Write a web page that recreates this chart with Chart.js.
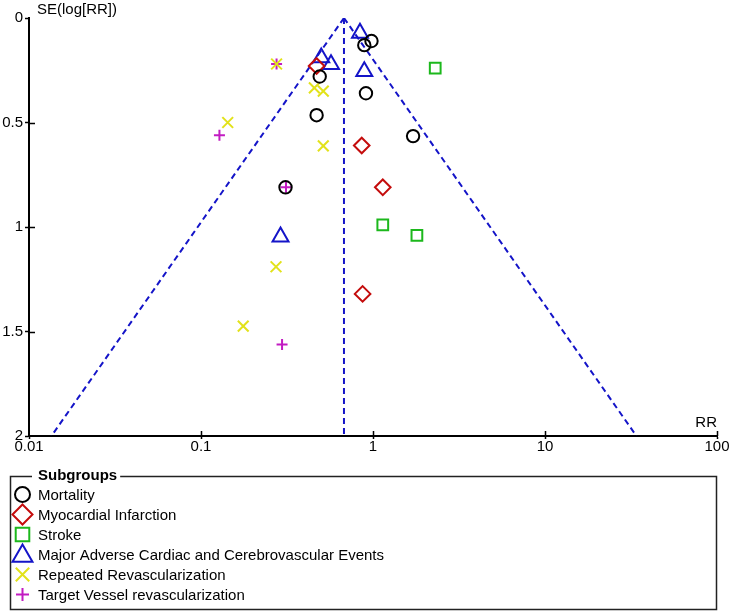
<!DOCTYPE html>
<html>
<head>
<meta charset="utf-8">
<script src="https://cdn.jsdelivr.net/npm/chart.js@4.4.1/dist/chart.umd.min.js"></script>
<style>
  html, body { margin: 0; padding: 0; background: #fff; }
  #wrap { width: 732px; height: 613px; }
</style>
</head>
<body>
<div id="wrap"><canvas id="funnel" width="732" height="613"></canvas></div>
<script>
// ---- values ----
const xTicks = [0.01, 0.1, 1, 10, 100];
const yTicks = [0, 0.5, 1, 1.5, 2];

const mortalityRR = [0.98, 0.89, 0.49, 0.91, 0.47, 1.71, 0.31];
const mortalitySE = [0.11, 0.13, 0.28, 0.36, 0.465, 0.565, 0.81];

const miRR = [0.47, 0.86, 1.14, 0.87];
const miSE = [0.23, 0.61, 0.81, 1.32];

const strokeRR = [2.30, 1.14, 1.80];
const strokeSE = [0.24, 0.99, 1.04];

const macceRR = [0.84, 0.50, 0.57, 0.89, 0.29];
const macceSE = [0.072, 0.19, 0.222, 0.256, 1.047];

const revascRR = [0.275, 0.456, 0.514, 0.143, 0.514, 0.273, 0.176];
const revascSE = [0.22, 0.334, 0.35, 0.50, 0.612, 1.19, 1.474];

const tvrRR = [0.275, 0.128, 0.312, 0.296];
const tvrSE = [0.22, 0.561, 0.81, 1.562];

// pooled estimate and funnel edges (read at SE = 0 and SE = 2)
const pooledRR = [0.678, 0.678];
const funnelLeftRR = [0.678, 0.0135];
const funnelRightRR = [0.678, 34.0];
const funnelSE = [0, 2];

const FONT = 'Liberation Sans, Arial, Helvetica, sans-serif';
const BLUE = '#1414c8';

const groups = [
  { label: 'Mortality', rr: mortalityRR, se: mortalitySE, color: '#000000', style: 'circle', r: 6.2, lr: 7.5 },
  { label: 'Myocardial Infarction', rr: miRR, se: miSE, color: '#c40c0c', style: 'rectRot', r: 7.8, lr: 10 },
  { label: 'Stroke', rr: strokeRR, se: strokeSE, color: '#1cb81c', style: 'rect', r: 7.6, lr: 9.6 },
  { label: 'Major Adverse Cardiac and Cerebrovascular Events', rr: macceRR, se: macceSE, color: '#1414c8', style: 'triangle', r: 9.2, lr: 11.5 },
  { label: 'Repeated Revascularization', rr: revascRR, se: revascSE, color: '#e2e21a', style: 'crossRot', r: 7.6, lr: 9.5 },
  { label: 'Target Vessel revascularization', rr: tvrRR, se: tvrSE, color: '#c21cc2', style: 'cross', r: 5.5, lr: 6.5 }
];

function pairs (xs, ys) {
  return xs.map((x, i) => ({ x, y: ys[i] }));
}

const pointSets = groups.map(g => ({
  label: g.label,
  data: pairs(g.rr, g.se),
  pointStyle: g.style,
  pointRadius: g.r,
  pointHoverRadius: g.r,
  borderColor: g.color,
  backgroundColor: 'rgba(0,0,0,0)',
  pointBorderWidth: 2,
  showLine: false
}));

function dashLine (xs) {
  return {
    label: '',
    data: pairs(xs, funnelSE),
    showLine: true,
    pointRadius: 0,
    borderColor: BLUE,
    borderWidth: 2,
    borderDash: [6, 4],
    fill: false
  };
}

// little helper for the legend markers (same shapes the scatter uses)
function drawMarker (ctx, style, x, y, r) {
  ctx.beginPath();
  if (style === 'circle') {
    ctx.arc(x, y, r, 0, Math.PI * 2);
  } else if (style === 'rectRot') {
    ctx.moveTo(x, y - r); ctx.lineTo(x + r, y); ctx.lineTo(x, y + r); ctx.lineTo(x - r, y); ctx.closePath();
  } else if (style === 'rect') {
    const h = r * Math.SQRT1_2;
    ctx.rect(x - h, y - h, 2 * h, 2 * h);
  } else if (style === 'triangle') {
    for (let i = 0; i < 3; i++) {
      const a = i * 2 * Math.PI / 3;
      const px = x + Math.sin(a) * r, py = y - Math.cos(a) * r;
      if (i === 0) ctx.moveTo(px, py); else ctx.lineTo(px, py);
    }
    ctx.closePath();
  } else if (style === 'crossRot') {
    const d = r * Math.SQRT1_2;
    ctx.moveTo(x - d, y - d); ctx.lineTo(x + d, y + d);
    ctx.moveTo(x + d, y - d); ctx.lineTo(x - d, y + d);
  } else if (style === 'cross') {
    ctx.moveTo(x - r, y); ctx.lineTo(x + r, y);
    ctx.moveTo(x, y - r); ctx.lineTo(x, y + r);
  }
  ctx.stroke();
}

const extras = {
  id: 'extras',
  afterDraw (chart) {
    const ctx = chart.ctx;
    const xs = chart.scales.x, ys = chart.scales.y;
    const area = chart.chartArea;
    ctx.save();

    // inward half of the tick marks
    ctx.strokeStyle = '#000';
    ctx.lineWidth = 1.5;
    ctx.beginPath();
    xTicks.slice(1).forEach(v => {
      const px = Math.round(xs.getPixelForValue(v)) + 0.5;
      ctx.moveTo(px, area.bottom); ctx.lineTo(px, area.bottom - 5);
    });
    yTicks.slice(1, -1).forEach(v => {
      const py = Math.round(ys.getPixelForValue(v)) + 0.5;
      ctx.moveTo(area.left, py); ctx.lineTo(area.left + 6, py);
    });
    ctx.stroke();

    // axis titles
    ctx.fillStyle = '#000';
    ctx.font = '15px ' + FONT;
    ctx.textBaseline = 'middle';
    ctx.textAlign = 'left';
    ctx.fillText('SE(log[RR])', area.left + 8, 10);
    ctx.textAlign = 'right';
    ctx.fillText('RR', area.right, 423);

    // legend box
    const bx = 10, by = 476, bw = 706, bh = 133;
    ctx.font = 'bold 15px ' + FONT;
    const titleW = ctx.measureText('Subgroups').width;
    ctx.lineWidth = 1.5;
    ctx.strokeStyle = '#222';
    ctx.beginPath();
    ctx.moveTo(32, by + 0.5); ctx.lineTo(bx + 0.5, by + 0.5);
    ctx.lineTo(bx + 0.5, by + bh + 0.5);
    ctx.lineTo(bx + bw + 0.5, by + bh + 0.5);
    ctx.lineTo(bx + bw + 0.5, by + 0.5);
    ctx.lineTo(38 + titleW + 3, by + 0.5);
    ctx.stroke();
    ctx.textAlign = 'left';
    ctx.fillText('Subgroups', 38, by);

    ctx.font = '15px ' + FONT;
    groups.forEach((g, i) => {
      const cy = 494.5 + i * 20;
      ctx.strokeStyle = g.color;
      ctx.lineWidth = 2;
      drawMarker(ctx, g.style, 22.5, g.style === 'triangle' ? cy + 1.5 : cy, g.lr);
      ctx.fillStyle = '#000';
      ctx.fillText(g.label, 38, cy + 1);
    });
    ctx.restore();
  }
};

new Chart(document.getElementById('funnel'), {
  type: 'scatter',
  data: {
    datasets: [
      ...pointSets,
      dashLine(pooledRR),
      dashLine(funnelLeftRR),
      dashLine(funnelRightRR)
    ]
  },
  options: {
    responsive: false,
    animation: false,
    layout: { padding: { left: 0, right: 15, top: 18, bottom: 155 } },
    plugins: { legend: { display: false }, tooltip: { enabled: false } },
    scales: {
      x: {
        type: 'logarithmic',
        min: 0.01,
        max: 100,
        afterFit: s => { s.height = 22; },
        afterBuildTicks: s => { s.ticks = xTicks.map(v => ({ value: v })); },
        ticks: {
          callback: v => String(v),
          autoSkip: false,
          maxRotation: 0,
          padding: -1,
          color: '#000',
          font: { family: FONT, size: 15 }
        },
        grid: { drawOnChartArea: false, drawTicks: true, tickLength: 3, tickWidth: 1.5, tickColor: '#000' },
        border: { color: '#000', width: 2 }
      },
      y: {
        type: 'linear',
        reverse: true,
        min: 0,
        max: 2,
        afterFit: s => { s.width = 29; },
        afterBuildTicks: s => { s.ticks = yTicks.map(v => ({ value: v })); },
        ticks: {
          callback: v => String(v),
          padding: 2,
          color: '#000',
          font: { family: FONT, size: 15 }
        },
        grid: { drawOnChartArea: false, drawTicks: true, tickLength: 4, tickWidth: 1.5, tickColor: '#000' },
        border: { color: '#000', width: 2 }
      }
    }
  },
  plugins: [extras]
});
</script>
</body>
</html>
